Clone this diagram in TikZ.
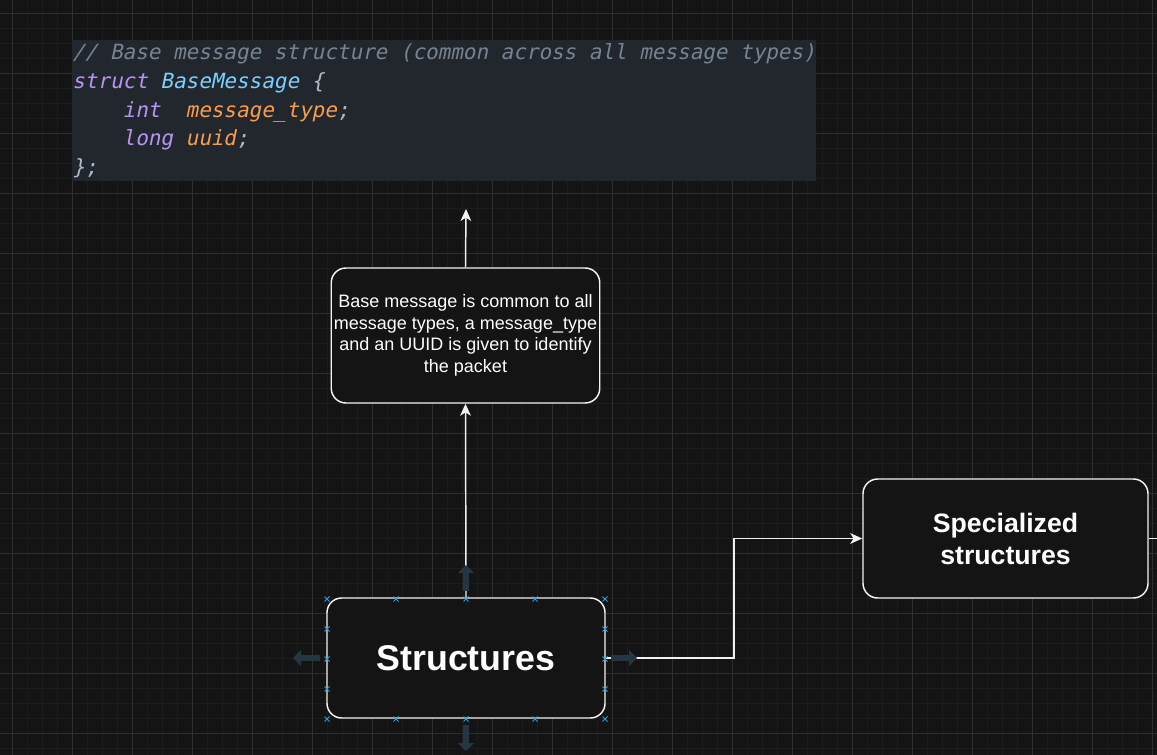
\documentclass[tikz,border=0pt]{standalone}
\usepackage{xcolor}
\usepackage{fontspec}
\usepackage{tikz}
\usetikzlibrary{arrows.meta}
\setmainfont{Liberation Sans}
\newfontfamily\codefont{DejaVu Sans Mono}[FakeSlant=0.2]
\newcommand\csp{\phantom{x}}

\definecolor{canvas}{HTML}{141414}
\definecolor{minorline}{HTML}{1C1C1C}
\definecolor{majorline}{HTML}{2E2E2E}
\definecolor{codebg}{HTML}{22272E}
\definecolor{cmt}{HTML}{768390}
\definecolor{kw}{HTML}{B893F0}
\definecolor{cls}{HTML}{7DCFFF}
\definecolor{var}{HTML}{F69D50}
\definecolor{punc}{HTML}{ADBAC7}
\definecolor{edge}{HTML}{F2F2F2}
\definecolor{handle}{HTML}{2E9FD8}
\definecolor{hover}{HTML}{243642}

\tikzset{
  msgbox/.style={draw=edge, line width=1.1pt, fill=black!92, rounded corners=11pt,
    text=white, align=center, inner sep=2pt},
  link/.style={draw=edge, line width=1.1pt, -{Stealth[length=9pt, width=8pt, inset=2.5pt]}},
  plainlink/.style={draw=edge, line width=1.1pt},
  codebox/.style={fill=codebg, inner xsep=0pt, inner ysep=0pt, text width=558pt,
    minimum height=105.75pt, align=left,
    font=\codefont\fontsize{15.7}{21.45}\selectfont},
  handlemark/.style={draw=handle, line width=0.6pt},
  hoverarrow/.style={draw=hover, line width=4.5pt, -{Triangle[length=6pt, width=12pt]}}
}

\begin{document}
\begin{tikzpicture}[x=0.75pt, y=-0.75pt]
  \fill[canvas] (0,0) rectangle (1157,755);
  \useasboundingbox (0,0) rectangle (1157,755);
  \foreach \x in {12,27,...,1157} \draw[minorline, line width=0.6pt] (\x,0) -- (\x,755);
  \foreach \y in {13,28,...,755} \draw[minorline, line width=0.6pt] (0,\y) -- (1157,\y);
  \foreach \x in {12,72,...,1157} \draw[majorline, line width=0.7pt] (\x,0) -- (\x,755);
  \foreach \y in {13,73,...,755} \draw[majorline, line width=0.7pt] (0,\y) -- (1157,\y);

  \node[codebox, anchor=north west] (code) at (72,40) {%
    \textcolor{cmt}{//\csp Base\csp message\csp structure\csp (common\csp across\csp all\csp message\csp types)}\\
    \textcolor{kw}{struct}\csp\textcolor{cls}{BaseMessage}\csp\textcolor{punc}{\{}\\
    \csp\csp\csp\csp\textcolor{kw}{int}\csp\csp\textcolor{var}{message\_type}\textcolor{punc}{;}\\
    \csp\csp\csp\csp\textcolor{kw}{long}\csp\textcolor{var}{uuid}\textcolor{punc}{;}\\
    \textcolor{punc}{\};}};

  \node[msgbox, minimum width=200.25pt, minimum height=101.25pt,
    font=\fontsize{13.5}{16.1}\selectfont] (base) at (465.5,335.5)
    {Base message is common to all\\message types, a message\_type\\and an UUID is given to identify\\the packet};
  \node[msgbox, minimum width=208.5pt, minimum height=90pt,
    font=\bfseries\fontsize{26.8}{30}\selectfont] (struct) at (466,658) {Structures};
  \node[msgbox, minimum width=213.75pt, minimum height=89.25pt,
    font=\bfseries\fontsize{20}{24}\selectfont] (spec) at (1005.5,538.5) {Specialized\\structures};

  \coordinate (codeend) at (466,209);
  \coordinate (elbow) at (734,658);
  \coordinate (offright) at (1157,538.5);

  \draw[link] (struct.north) -- (base.south);
  \draw[link] (base.north) -- (codeend);
  \draw[link] (struct.east) -- (elbow) |- (spec.west);
  \draw[plainlink] (spec.east) -- (offright);

  \draw[hoverarrow] (466,591) -- (466,565);
  \draw[hoverarrow] (320,658) -- (293,658);
  \draw[hoverarrow] (611,658) -- (637,658);
  \draw[hoverarrow] (466,725) -- (466,751);

  \foreach \x in {327,396,466,535,605} {
    \draw[handlemark] (\x-2.5,596.5) -- (\x+2.5,601.5) (\x-2.5,601.5) -- (\x+2.5,596.5);
    \draw[handlemark] (\x-2.5,716.5) -- (\x+2.5,721.5) (\x-2.5,721.5) -- (\x+2.5,716.5);
  }
  \foreach \y in {629,659,689} {
    \draw[handlemark] (324.5,\y-2.5) -- (329.5,\y+2.5) (324.5,\y+2.5) -- (329.5,\y-2.5);
    \draw[handlemark] (602.5,\y-2.5) -- (607.5,\y+2.5) (602.5,\y+2.5) -- (607.5,\y-2.5);
  }
\end{tikzpicture}
\end{document}
